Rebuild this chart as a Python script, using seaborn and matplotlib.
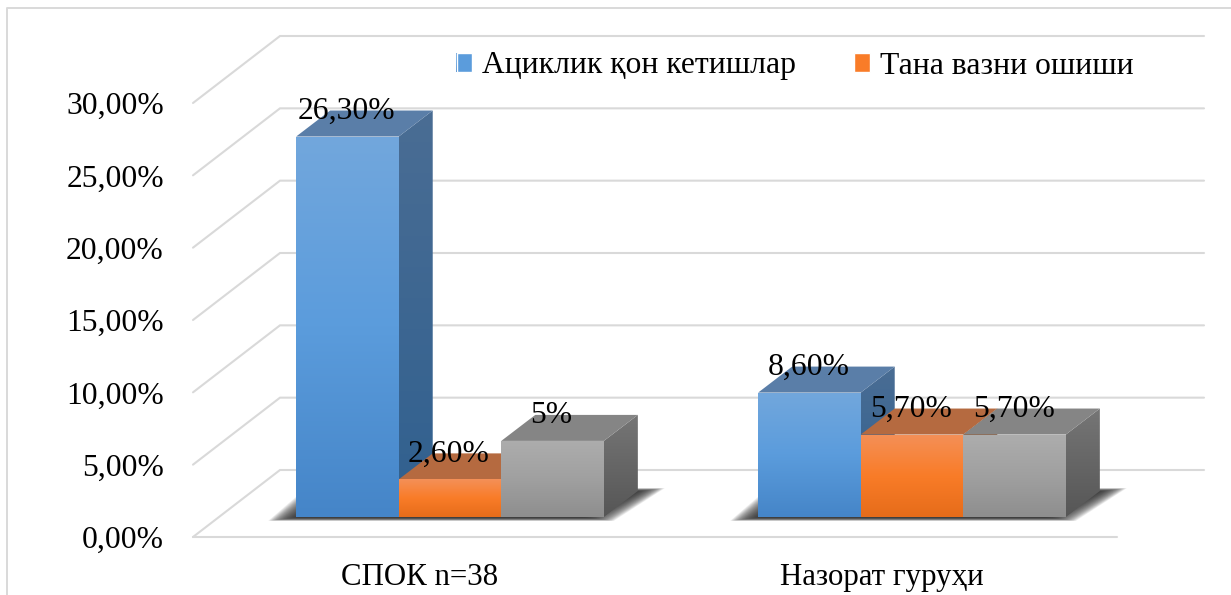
"""
3D style clustered bars, drawn as seaborn bars plus derived side and top faces
"""
import numpy as np
import pandas as pd
import seaborn as sns
import matplotlib.pyplot as plt
from matplotlib.colors import LinearSegmentedColormap
from matplotlib.lines import Line2D
from matplotlib.patches import Polygon, Patch
from matplotlib.transforms import ScaledTranslation

sns.set_style('white')
plt.rcParams['font.family'] = ['Liberation Serif', 'DejaVu Serif']

# Chart data
groups = ['СПОК n=38', 'Назорат гуруҳи']
series = ['Ациклик қон кетишлар', 'Тана вазни ошиши', 'Бошқа']
values_a = [26.3, 8.6]
values_b = [2.6, 5.7]
values_c = [5.26, 5.7]
labels_a = ['26,30%', '8,60%']
labels_b = ['2,60%', '5,70%']
labels_c = ['5%', '5,70%']
y_ticks = [0, 5, 10, 15, 20, 25, 30]
y_tick_labels = ['0,00%', '5,00%', '10,00%', '15,00%', '20,00%', '25,00%', '30,00%']

# Face colours per series: front gradient, side gradient, top
front_colors = [['#72a7dd', '#5b9cdc', '#4585c8'],
                ['#f49058', '#f97c28', '#e66c1a'],
                ['#adadad', '#a0a0a0', '#8e8e8e']]
side_colors = [['#4a6d94', '#30608f'], ['#9a5a30', '#8a4a20'], ['#767676', '#565656']]
top_colors = ['#5a7ea8', '#b56a40', '#858585']
GRID = '#d9d9d9'

W, H = 1231, 595
FS = 22.8


def rect(left, right, bottom_y, top_y):
    # pixel box (y from the top) to figure fraction
    return [left / W, 1 - bottom_y / H, (right - left) / W, (bottom_y - top_y) / H]


fig = plt.figure(figsize=(W / 100, H / 100), dpi=100)

# Outer chart frame
fig.add_artist(Line2D([7 / W, 7 / W, 1], [0, 1 - 8 / H, 1 - 8 / H], color=GRID, lw=1.4))

# Front edge of the floor carries the axis
ax_wall = fig.add_axes(rect(193, 1117, 537, 103))
ax_wall.set_xlim(-0.5, 1.5)
ax_wall.set_ylim(0, 30)
ax_wall.set_xticks([0, 1], groups, fontsize=22.2)
ax_wall.set_yticks(y_ticks, y_tick_labels, fontsize=FS)
ax_wall.tick_params(length=0, axis='y', pad=21, colors='black')
ax_wall.tick_params(length=0, axis='x', pad=19, colors='black')
for lab in ax_wall.get_xticklabels():
    lab.set_transform(lab.get_transform() + ScaledTranslation(-4 / 100, 0, fig.dpi_scale_trans))
sns.despine(ax=ax_wall, left=True, bottom=True)
ax_wall.patch.set_visible(False)

px_x = 2 / 924
px_y = 30 / 434
for v in y_ticks:
    xs = [-0.5, -0.5 + 87 * px_x, 1.5 + 87 * px_x]
    ys = [v, v + 67 * px_y, v + 67 * px_y]
    ax_wall.plot(xs, ys, color=GRID, lw=1.5, clip_on=False, solid_joinstyle='miter')
ax_wall.plot([-0.5, 1.5], [0, 0], color=GRID, lw=1.5, clip_on=False)

# Bars stand a little behind the front edge
ax = fig.add_axes(rect(193 + 26, 1117 + 26, 537 - 20, 103 - 20))
df = pd.DataFrame({
    'group': groups * 3,
    'series': [series[0]] * 2 + [series[1]] * 2 + [series[2]] * 2,
    'value': values_a + values_b + values_c,
    'label': labels_a + labels_b + labels_c,
})
sns.barplot(data=df, x='group', y='value', hue='series', hue_order=series,
            palette=[c[1] for c in front_colors], width=0.666, gap=0, saturation=1,
            legend=False, ax=ax)
ax.set_xlim(-0.5, 1.5)
ax.set_ylim(0, 30)
ax.axis('off')

dx = 34 * px_x
dy = 26 * px_y


def gradient(target, poly, colors, z):
    # vertical gradient clipped to the patch
    cmap = LinearSegmentedColormap.from_list('face', colors, N=256)
    pts = poly.get_patch_transform().transform(poly.get_path().vertices)
    img = target.imshow(np.linspace(0, 1, 256).reshape(-1, 1), cmap=cmap, aspect='auto', zorder=z,
                        extent=(pts[:, 0].min(), pts[:, 0].max(), pts[:, 1].min(), pts[:, 1].max()))
    img.set_clip_path(poly)


# Soft shadow under each cluster
patches = list(ax.patches)
for g in range(2):
    x0 = g - 0.333
    x1 = g + 0.333
    for grow in range(24, -8, -1):
        g_x = grow * px_x
        g_y = grow * px_y * 0.12
        shade = [(x0 - 4 * px_x - g_x, -1 * px_y - g_y),
                 (x1 - 14 * px_x + g_x, -1 * px_y - g_y),
                 (x1 + 37 * px_x + g_x, 26 * px_y + g_y),
                 (x0 + 34 * px_x - g_x, 26 * px_y + g_y)]
        ax.add_patch(Polygon(shade, closed=True, fc='#303030', ec='none', alpha=0.075,
                             zorder=1, clip_on=False))

# Side and top faces come from the seaborn bar rectangles, painted left to right
order = sorted(range(len(patches)), key=lambda i: patches[i].get_x())
for rank, i in enumerate(order):
    p = patches[i]
    s = i // 2
    x, w, h = p.get_x(), p.get_width(), p.get_height()
    z = 3 + rank * 3
    side = Polygon([(x + w, 0), (x + w + dx, dy), (x + w + dx, h + dy), (x + w, h)],
                   closed=True, fc='none', ec='none', transform=ax.transData)
    ax.add_patch(side)
    gradient(ax, side, side_colors[s], z)
    top = Polygon([(x, h), (x + w, h), (x + w + dx, h + dy), (x + dx, h + dy)],
                  closed=True, fc=top_colors[s], ec='none', zorder=z + 1)
    ax.add_patch(top)
    p.set_facecolor('none')
    p.set_edgecolor('none')
    gradient(ax, p, front_colors[s], z + 2)
    ax.text(x + w / 2 - 1 * px_x, h + dy - 1 * px_y, df['label'].iloc[i], ha='center', va='center',
            fontsize=FS, color='black', zorder=50, clip_on=False)

ax.set_xlim(-0.5, 1.5)
ax.set_ylim(0, 30)

# Legend lists only two of the three series, as in the source
handles = [Patch(fc=front_colors[0][1]), Patch(fc=front_colors[1][1])]
leg = fig.legend(handles, series[:2], loc='center left', bbox_to_anchor=(447 / W, 1 - 66 / H), ncol=2,
                 frameon=False, fontsize=FS, handlelength=0.5, handleheight=0.55, handletextpad=0.32,
                 columnspacing=1.82, borderaxespad=0, borderpad=0.3, labelcolor='black')

# Legend squares get the same gradient as the bars, snapped to whole pixels
fig.canvas.draw()
for handle, colors in zip(leg.legend_handles, front_colors):
    box = handle.get_window_extent()
    left, right = round(box.x0), round(box.x1)
    low, high = round(box.y0), round(box.y1)
    ax_key = fig.add_axes([left / W, low / H, (right - left) / W, (high - low) / H])
    ax_key.imshow(np.linspace(0, 1, 64).reshape(-1, 1), aspect='auto',
                  cmap=LinearSegmentedColormap.from_list('key', colors, N=64))
    ax_key.axis('off')

fig.savefig('out.png', dpi=100, facecolor='white')
